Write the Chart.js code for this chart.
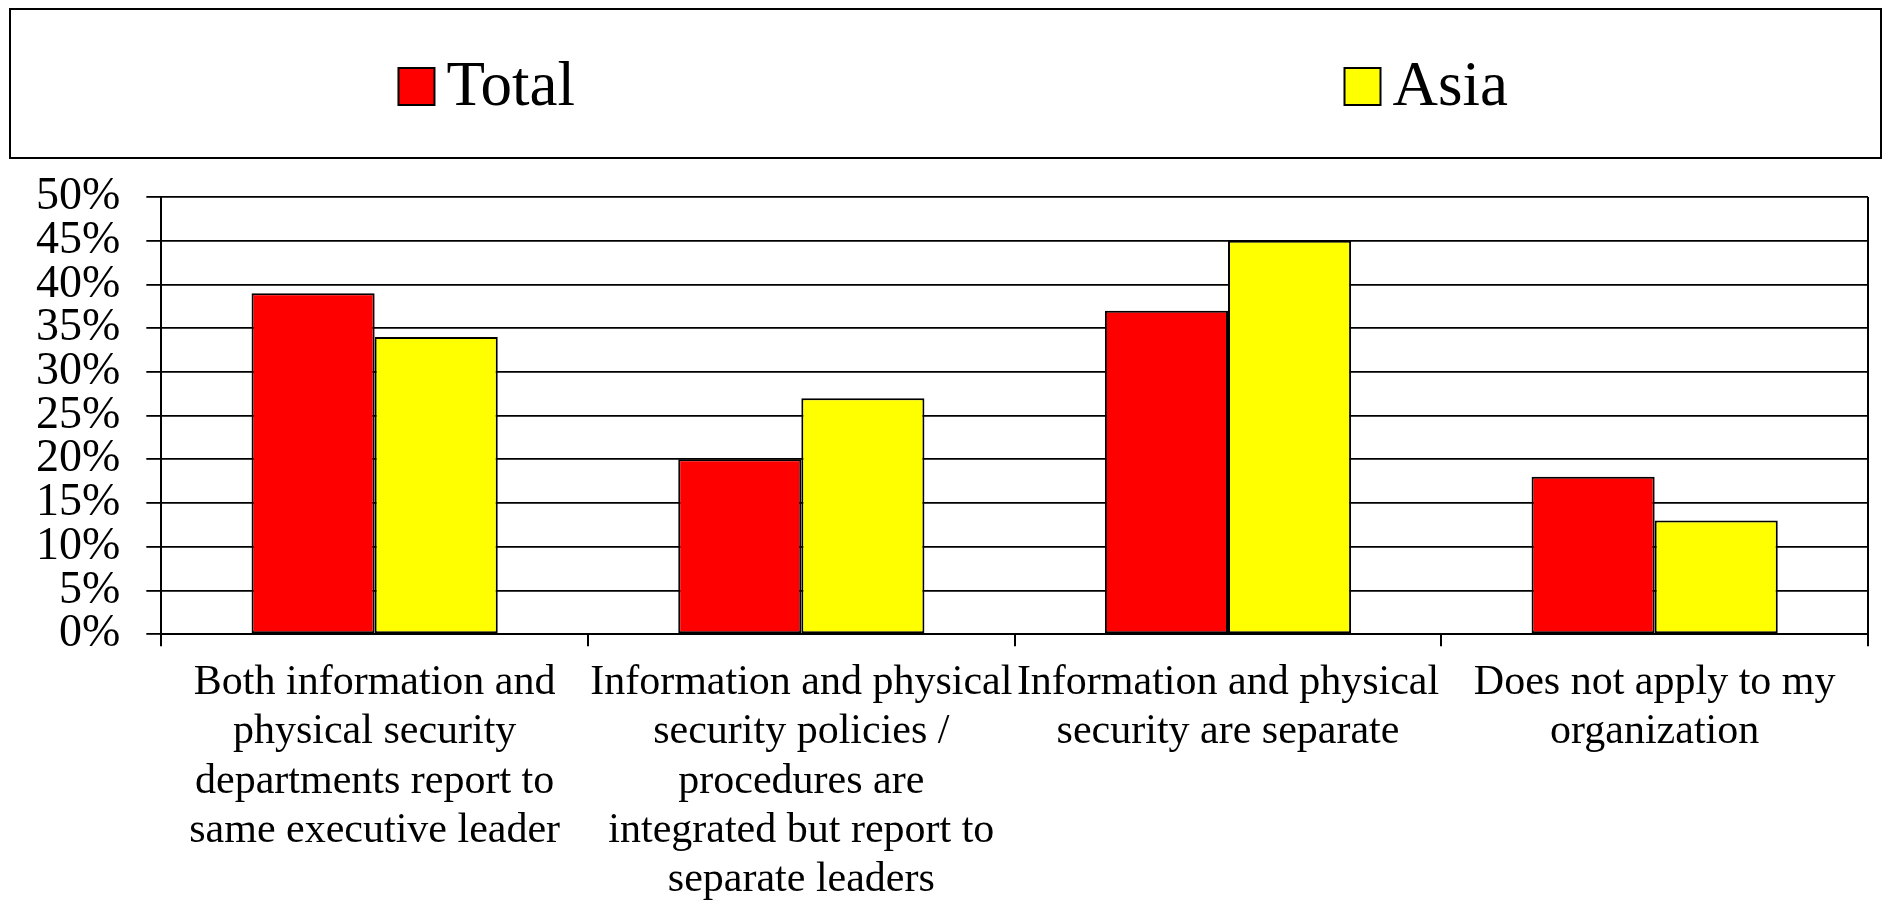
<!DOCTYPE html>
<html>
<head>
<meta charset="utf-8">
<script src="https://cdn.jsdelivr.net/npm/chart.js@4"></script>
<style>
  html, body { margin: 0; padding: 0; background: #fff; }
  #wrap { width: 1885px; height: 900px; }
</style>
</head>
<body>
<div id="wrap"><canvas id="grafico"></canvas></div>
<script>
const categories = [
    ['Both information and', 'physical security', 'departments report to', 'same executive leader'],
    ['Information and physical', 'security policies /', 'procedures are', 'integrated but report to', 'separate leaders'],
    ['Information and physical', 'security are separate'],
    ['Does not apply to my', 'organization']
];
const seriesNames = ['Total', 'Asia'];
const totalValues = [39, 20, 37, 18];
const asiaValues = [34, 27, 45, 13];
const yTickValues = [0, 5, 10, 15, 20, 25, 30, 35, 40, 45, 50];

const serif = '"Liberation Serif", "Times New Roman", serif';

// legend in a framed box at the top, plus right edge of the plot frame
const boxLegend = {
    id: 'boxLegend',
    afterDraw(chart) {
        const ctx = chart.ctx;
        const area = chart.chartArea;
        ctx.save();
        ctx.strokeStyle = '#000';
        ctx.lineWidth = 2;
        ctx.beginPath();
        ctx.moveTo(area.right, area.top);
        ctx.lineTo(area.right, area.bottom);
        ctx.stroke();

        const left = 10, top = 9, w = chart.width - 14, h = 149;
        ctx.strokeRect(left, top, w, h);
        ctx.font = '63px ' + serif;
        ctx.textBaseline = 'middle';
        ctx.textAlign = 'left';
        const sets = chart.data.datasets;
        const slot = w / sets.length;
        sets.forEach(function (ds, i) {
            const tw = ctx.measureText(ds.label).width;
            const itemW = 36 + 12 + tw;
            const x0 = left + slot * (i + 0.5) - itemW / 2 + 9 + i * 4;
            ctx.fillStyle = ds.backgroundColor;
            ctx.fillRect(x0, 68, 36, 37);
            ctx.strokeRect(x0, 68, 36, 37);
            ctx.fillStyle = '#000';
            ctx.fillText(ds.label, x0 + 48, 88);
        });
        ctx.restore();
    }
};

document.addEventListener('DOMContentLoaded', function () {
    const ctx = document.getElementById('grafico').getContext('2d');
    new Chart(ctx, {
        type: 'bar',
        data: {
            labels: categories,
            datasets: [{
                label: seriesNames[0],
                data: totalValues,
                backgroundColor: '#ff0000',
                borderColor: '#000',
                borderWidth: 2,
                borderSkipped: false
            }, {
                label: seriesNames[1],
                data: asiaValues,
                backgroundColor: '#ffff00',
                borderColor: '#000',
                borderWidth: 2,
                borderSkipped: false
            }]
        },
        options: {
            responsive: true,
            maintainAspectRatio: false,
            animation: false,
            datasets: {
                bar: { barPercentage: 1, categoryPercentage: 0.577 }
            },
            layout: {
                padding: { top: 197, left: 10, right: 17, bottom: -17 }
            },
            scales: {
                x: {
                    offset: true,
                    grid: {
                        offset: true,
                        drawOnChartArea: false,
                        tickLength: 12,
                        color: '#000',
                        lineWidth: 2
                    },
                    border: { display: true, color: '#000', width: 2 },
                    ticks: {
                        color: '#000',
                        padding: 12,
                        maxRotation: 0,
                        autoSkip: false,
                        font: { family: serif, size: 42, lineHeight: 1.175 }
                    }
                },
                y: {
                    min: 0,
                    max: 50,
                    afterBuildTicks: function (scale) {
                        scale.ticks = yTickValues.map(function (v) { return { value: v }; });
                    },
                    grid: {
                        color: '#000',
                        lineWidth: 1.8,
                        tickLength: 15
                    },
                    border: { display: true, color: '#000', width: 2 },
                    ticks: {
                        color: '#000',
                        padding: 26,
                        autoSkip: false,
                        font: { family: serif, size: 46 },
                        callback: function (v) { return v + '%'; }
                    }
                }
            },
            plugins: {
                legend: { display: false },
                tooltip: { enabled: false }
            }
        },
        plugins: [boxLegend]
    });
});
</script>
</body>
</html>
